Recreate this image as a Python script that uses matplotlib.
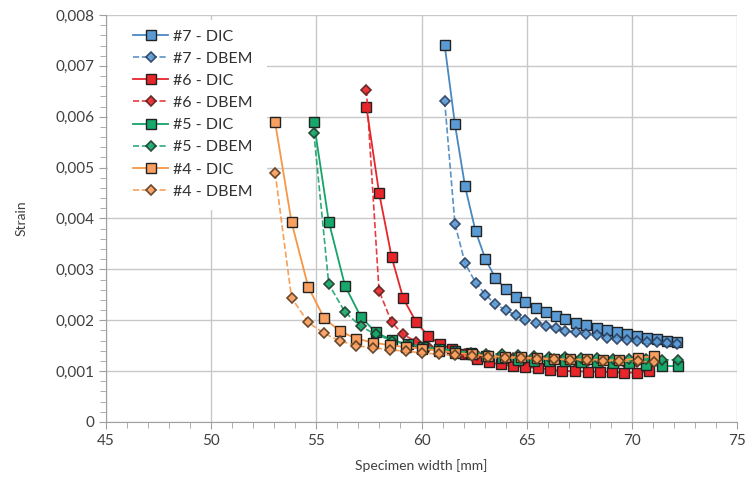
import matplotlib.pyplot as plt
from matplotlib.patches import Rectangle
from matplotlib.ticker import MultipleLocator, FuncFormatter

plt.rcParams['font.family'] = ['Lato', 'DejaVu Sans']

# specimen width [mm] for each specimen
x7 = [61.10, 61.59, 62.07, 62.57, 63.04, 63.50, 64.00, 64.47, 64.94, 65.42, 65.90, 66.37,
      66.84, 67.35, 67.82, 68.33, 68.80, 69.27, 69.78, 70.26, 70.74, 71.21, 71.69, 72.16]
x6 = [57.38, 57.98, 58.58, 59.13, 59.75, 60.32, 60.89, 61.47, 62.05, 62.63, 63.20, 63.80,
      64.37, 64.94, 65.53, 66.10, 66.70, 67.30, 67.90, 68.50, 69.06, 69.64, 70.23, 70.80]
x5 = [54.88, 55.59, 56.36, 57.11, 57.82, 58.60, 59.35, 60.07, 60.83, 61.58, 62.33, 63.08,
      63.83, 64.58, 65.33, 66.08, 66.83, 67.58, 68.33, 69.08, 69.88, 70.67, 71.41, 72.17]
x4 = [53.04, 53.82, 54.61, 55.37, 56.14, 56.90, 57.69, 58.49, 59.25, 60.04, 60.83, 61.61,
      62.39, 63.17, 63.95, 64.73, 65.51, 66.29, 67.07, 67.85, 68.63, 69.41, 70.27, 71.07]

# strain
dic7 = [0.00741, 0.00585, 0.00463, 0.00375, 0.00320, 0.00284, 0.00261, 0.00245, 0.00235, 0.00224,
        0.00216, 0.00209, 0.00202, 0.00195, 0.00191, 0.00184, 0.00181, 0.00176, 0.00173, 0.00169,
        0.00166, 0.00163, 0.00160, 0.00158]
dbem7 = [0.00631, 0.00389, 0.00312, 0.00274, 0.00250, 0.00232, 0.00220, 0.00210, 0.00200, 0.00195,
         0.00189, 0.00184, 0.00179, 0.00176, 0.00173, 0.00170, 0.00166, 0.00164, 0.00161, 0.00160,
         0.00158, 0.00157, 0.00155, 0.00154]
dic6 = [0.00619, 0.00451, 0.00324, 0.00243, 0.00196, 0.00169, 0.00153, 0.00143, 0.00133, 0.00123,
        0.00117, 0.00113, 0.00110, 0.00108, 0.00106, 0.00103, 0.00100, 0.00100, 0.00099, 0.00099,
        0.00098, 0.00097, 0.00097, 0.00100]
dbem6 = [0.00653, 0.00258, 0.00196, 0.00172, 0.00158, 0.00148, 0.00142, 0.00138, 0.00134, 0.00131,
         0.00129, 0.00127, 0.00125, 0.00124, 0.00123, 0.00122, 0.00121, 0.00120, 0.00120, 0.00119,
         0.00118, 0.00118, 0.00117, 0.00117]
dic5 = [0.00589, 0.00394, 0.00268, 0.00207, 0.00176, 0.00161, 0.00153, 0.00148, 0.00144, 0.00140,
        0.00136, 0.00130, 0.00125, 0.00122, 0.00120, 0.00119, 0.00119, 0.00118, 0.00117, 0.00116,
        0.00115, 0.00112, 0.00110, 0.00110]
dbem5 = [0.00569, 0.00271, 0.00216, 0.00188, 0.00172, 0.00160, 0.00151, 0.00146, 0.00142, 0.00139,
         0.00136, 0.00134, 0.00133, 0.00132, 0.00130, 0.00128, 0.00127, 0.00126, 0.00125, 0.00124,
         0.00124, 0.00123, 0.00122, 0.00122]
dic4 = [0.00589, 0.00393, 0.00266, 0.00204, 0.00178, 0.00164, 0.00156, 0.00151, 0.00147, 0.00144,
        0.00140, 0.00136, 0.00133, 0.00130, 0.00128, 0.00127, 0.00126, 0.00124, 0.00123, 0.00123,
        0.00122, 0.00121, 0.00125, 0.00130]
dbem4 = [0.00490, 0.00244, 0.00196, 0.00174, 0.00159, 0.00150, 0.00146, 0.00142, 0.00139, 0.00136,
         0.00133, 0.00131, 0.00129, 0.00127, 0.00126, 0.00125, 0.00124, 0.00123, 0.00122, 0.00121,
         0.00120, 0.00120, 0.00119, 0.00118]

series = [
    ('#7', x7, dic7, dbem7, '#4a86c0', '#5b9bd5', '#2a3f5f'),
    ('#6', x6, dic6, dbem6, '#e5262b', '#e8262a', '#5a2020'),
    ('#5', x5, dic5, dbem5, '#16a36a', '#17a86b', '#1f3a2a'),
    ('#4', x4, dic4, dbem4, '#f79646', '#f9a060', '#5a3a20'),
]

fig = plt.figure(figsize=(7.45, 4.78), dpi=100)
ax = fig.add_axes([0.1423, 0.1172, 0.8470, 0.8514])

for name, x, dic, dbem, lc, fc, ec in series:
    ax.plot(x, dic, '-', color=lc, lw=1.3, marker='s', ms=6.5, mfc=fc, mec='#222222', mew=1.0,
            label=name + ' - DIC')
    ax.plot(x, dbem, '--', color=lc, lw=1.2, alpha=0.9, marker='D', ms=5, mfc=fc, mec=ec, mew=1.2,
            label=name + ' - DBEM')

ax.set_xlim(45, 75)
ax.set_ylim(0, 0.008)
ax.xaxis.set_major_locator(MultipleLocator(5))
ax.xaxis.set_minor_locator(MultipleLocator(1))
ax.yaxis.set_major_locator(MultipleLocator(0.001))
ax.yaxis.set_minor_locator(MultipleLocator(0.0002))
ax.yaxis.set_major_formatter(FuncFormatter(lambda v, p: '0' if v == 0 else f'{v:.3f}'.replace('.', ',')))

ax.grid(True, which='major', color='#c8c8c8', lw=1.0)
ax.set_axisbelow(True)
for s in ['top', 'right']:
    ax.spines[s].set_visible(False)
for s in ['left', 'bottom']:
    ax.spines[s].set_color('#a0a0a0')
ax.tick_params(which='both', color='#a0a0a0', labelsize=11, labelcolor='#404040', direction='out')
ax.tick_params(which='major', length=5)
ax.tick_params(which='minor', length=4)

ax.set_xlabel('Specimen width [mm]', fontsize=10, color='#404040', labelpad=8)
ax.set_ylabel('Strain', fontsize=10, color='#404040', labelpad=20)

# white legend area hides the grid behind it
ax.add_patch(Rectangle((0.003, 0.52), 0.252, 0.468, transform=ax.transAxes,
                       facecolor='white', edgecolor='none', zorder=1))
ax.legend(loc='upper left', bbox_to_anchor=(0.02, 1.0), frameon=False, fontsize=11.5,
          labelspacing=0.5, handlelength=2.2, handletextpad=0.3, labelcolor='#303030')

fig.savefig('out.png', dpi=100)
